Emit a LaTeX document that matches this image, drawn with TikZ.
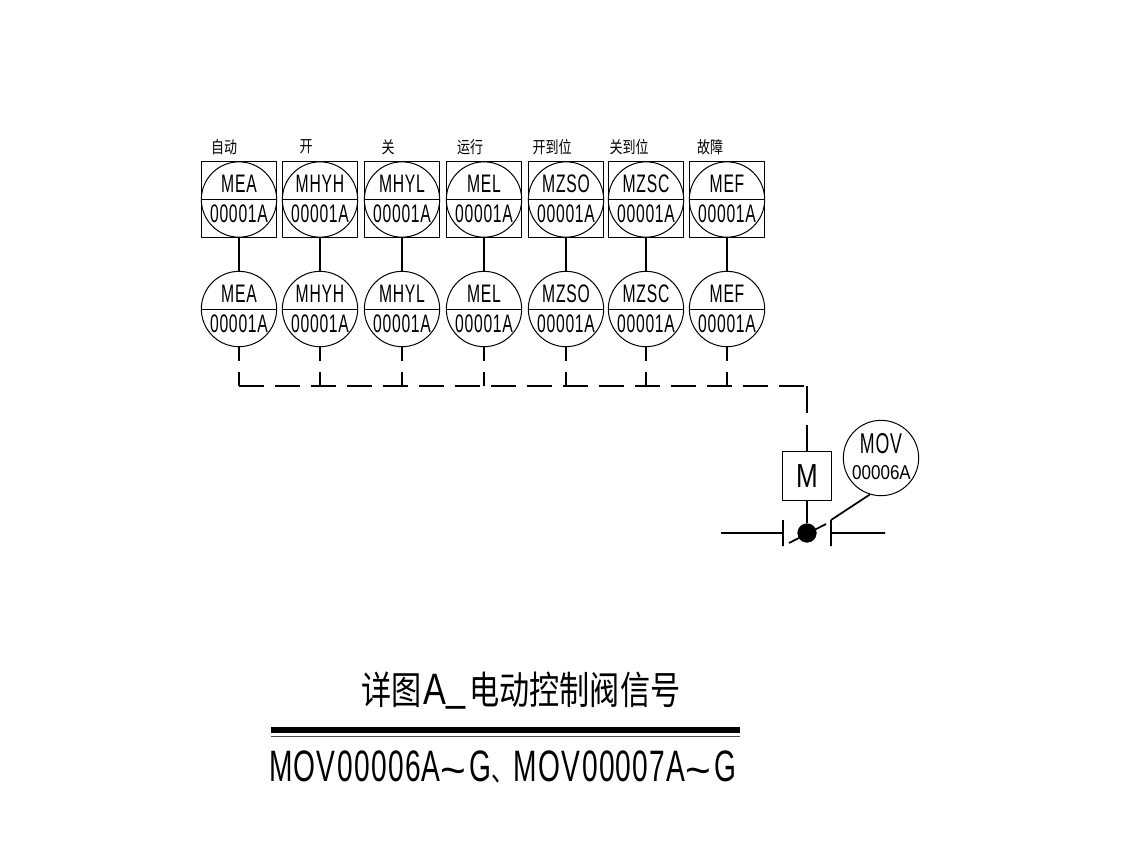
\documentclass[tikz,border=0pt]{standalone}
\usepackage{fontspec}
\newfontfamily\cadfont[FakeStretch=0.62,LetterSpace=3]{Liberation Sans}
\newfontfamily\cadsub[FakeStretch=0.64,LetterSpace=3]{Liberation Sans}
\newfontfamily\cadwide[FakeStretch=0.78]{Liberation Sans}
\newfontfamily\cadnum[FakeStretch=0.85]{Liberation Sans}
\newfontfamily\cadplain{Liberation Sans}
\newfontfamily\cjkfont[FakeStretch=0.78]{Noto Sans CJK SC}
\tikzset{
	tagcircle/.style={draw, circle, line width=0.75pt, minimum size=56.5pt, inner sep=0pt},
	tagbox/.style={draw, rectangle, line width=0.75pt, minimum size=56.5pt, inner sep=0pt},
	tagtext/.style={inner sep=0pt, font=\cadfont\fontsize{19}{20}\selectfont},
	captext/.style={inner sep=0pt, font=\cjkfont\fontsize{12.5}{14}\selectfont},
	wire/.style={line width=1.3pt},
	buswire/.style={line width=1.3pt, dash pattern=on 18.75pt off 8.25pt}
}
\begin{document}
\begin{tikzpicture}[x=0.75pt, y=-0.75pt, line join=round]
	\useasboundingbox (0,0) rectangle (1131,844);
	% signal tags, two rows
	\foreach \i/\xc/\xl/\tagname/\capname in {1/239/224/MEA/自动, 2/320/306/MHYH/开, 3/402/388/MHYL/关, 4/484/470/MEL/运行, 5/566/552/MZSO/开到位, 6/646/629/MZSC/关到位, 7/727/710/MEF/故障}{
		\node[captext] (cap\i) at (\xl,147) {\capname};
		\node[tagbox] (box\i) at (\xc,199.5) {};
		\node[tagcircle] (up\i) at (\xc,199.5) {};
		\node[tagcircle] (low\i) at (\xc,309) {};
		\draw[line width=0.75pt] (up\i.west)--(up\i.east) (low\i.west)--(low\i.east);
		\node[tagtext] (upname\i) at (\xc,184) {\tagname}; \node[tagtext] (upnum\i) at (\xc,213.5) {00001A};
		\node[tagtext] (lowname\i) at (\xc,293.5) {\tagname}; \node[tagtext] (lownum\i) at (\xc,323.5) {00001A};
		\draw[wire] (up\i)--(low\i);
		\coordinate (stub\i) at (\xc,361); \coordinate (drop\i) at (\xc,372); \coordinate (bus\i) at (\xc,386);
		\draw[wire] (low\i)--(stub\i) (drop\i)--(bus\i);
	}
	% valve and actuator
	\node[draw, rectangle, line width=1pt, minimum size=36.5pt, inner sep=0pt, font=\cadwide\fontsize{25}{28}\selectfont] (act) at (807,476) {M};
	\node[draw, circle, fill=black, minimum size=14pt, inner sep=0pt] (valve) at (807,533) {};
	\node[tagcircle] (mov) at (881,458) {};
	\node[inner sep=0pt, font=\cadfont\fontsize{21.5}{22}\selectfont] (movname) at (881,443.5) {MOV};
	\node[inner sep=0pt, font=\cadnum\fontsize{15}{18}\selectfont] (movnum) at (881.5,473) {00006A};
	\coordinate (corner) at (807,386); \coordinate (gapA) at (807,413); \coordinate (gapB) at (807,425);
	\draw[buswire] (bus1)--(corner);
	\draw[wire] (corner)--(gapA) (gapB)--(act);
	\draw[wire] (act)--(valve);
	\coordinate (pipeL) at (721,533); \coordinate (pipeR) at (885,533);
	\coordinate (seatLa) at (783,520); \coordinate (seatLb) at (783,546); \coordinate (seatLc) at (783,533);
	\coordinate (seatRa) at (831,520); \coordinate (seatRb) at (831,546); \coordinate (seatRc) at (831,533);
	\coordinate (slashA) at (789,543); \coordinate (slashB) at (826,524);
	\draw[wire] (pipeL)--(seatLc) (seatRc)--(pipeR) (seatLa)--(seatLb) (seatRa)--(seatRb) (slashA)--(slashB);
	\draw[wire] (seatRa)--(mov.253);
	% title
	\node[inner sep=0pt, font=\fontsize{29}{30}\selectfont] (title) at (521,691) {\cjkfont 详图\hspace{1pt}{\cadwide\fontsize{33}{35}\selectfont A\raisebox{3pt}{\_}}\hspace{3pt}\cjkfont 电动控制阀信号};
	\coordinate (ruleL) at (271,730); \coordinate (ruleR) at (740,730);
	\coordinate (thinL) at (271,736.5); \coordinate (thinR) at (740,736.5);
	\draw[line width=5pt] (ruleL)--(ruleR);
	\draw[line width=1pt, black!70] (thinL)--(thinR);
	\node[inner sep=0pt, font=\cadsub\fontsize{33}{35}\selectfont] (subtitle) at (502.5,768) {MOV00006A{\cadplain\raisebox{-3pt}{\char`\~}}\hspace{2pt}G{\cjkfont\fontsize{22}{24}\selectfont 、}MOV00007A{\cadplain\raisebox{-3pt}{\char`\~}}\hspace{2pt}G};
\end{tikzpicture}
\end{document}
